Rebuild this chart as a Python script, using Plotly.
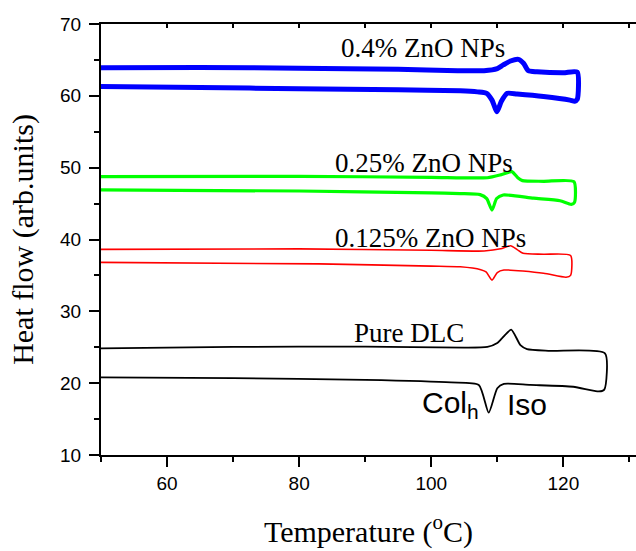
import plotly.graph_objects as go

# DSC thermograms: heating branch (upper) and cooling branch (lower) per sample
# Pure DLC
dlc_heat_T = [50, 70, 90, 105, 108.5, 110, 110.7, 112.1, 113.5, 114.5, 118, 126.3]
dlc_heat_H = [24.85, 25.05, 25.1, 24.95, 25.05, 25.6, 26.24, 27.45, 25.3, 24.75, 24.5, 24.16]
dlc_cool_T = [50, 70, 90, 103, 107.2, 108.7, 110, 111, 115, 121.5, 125.4, 126.2]
dlc_cool_H = [20.8, 20.7, 20.45, 20.1, 19.75, 15.9, 19.3, 19.9, 19.75, 19.5, 18.85, 19.1]

# 0.125% ZnO NPs
zn125_heat_T = [50, 80, 100, 108, 110.5, 112, 113, 113.9, 117, 121.1]
zn125_heat_H = [38.63, 38.7, 38.5, 38.4, 38.7, 39.14, 38.6, 38.08, 37.95, 37.78]
zn125_cool_T = [50, 83, 100, 104.4, 107.5, 108.3, 109.2, 110, 111, 117, 120.4, 121.1]
zn125_cool_H = [36.82, 36.6, 36.3, 36.2, 35.8, 35.5, 34.35, 35.4, 35.75, 35.3, 34.75, 35.0]

# 0.25% ZnO NPs
zn25_heat_T = [50, 80, 100, 108.5, 110.5, 112.2, 113.1, 113.8, 117, 121.6]
zn25_heat_H = [48.75, 48.8, 48.65, 48.6, 49.0, 49.45, 48.6, 48.2, 48.1, 48.05]
zn25_cool_T = [50, 80, 100, 104.4, 107.4, 108.4, 109.2, 109.9, 110.9, 115.5, 119.5, 121.2, 121.7]
zn25_cool_H = [46.9, 46.75, 46.5, 46.4, 46.25, 45.7, 44.1, 45.7, 46.2, 45.75, 45.4, 44.9, 45.2]

# 0.4% ZnO NPs
zn4_heat_T = [50, 65, 80, 95, 104, 108, 110, 110.9, 112, 113.2, 114, 114.7, 116, 120, 122.1]
zn4_heat_H = [63.9, 63.95, 63.85, 63.7, 63.5, 63.5, 63.8, 64.3, 64.85, 65.08, 64.5, 63.5, 63.35, 63.2, 63.3]
zn4_cool_T = [50, 65, 80, 95, 104.4, 107, 108.4, 109.2, 109.95, 110.6, 111.5, 113, 117, 121, 121.7, 122.1]
zn4_cool_H = [61.3, 61.15, 61.0, 60.85, 60.7, 60.55, 60.35, 59.4, 57.8, 59.2, 60.35, 60.25, 59.9, 59.4, 59.25, 59.5]

samples = [
    ("Pure DLC", dlc_heat_T, dlc_heat_H, dlc_cool_T, dlc_cool_H, "#000000", 1.8),
    ("0.125% ZnO NPs", zn125_heat_T, zn125_heat_H, zn125_cool_T, zn125_cool_H, "#FF0000", 1.6),
    ("0.25% ZnO NPs", zn25_heat_T, zn25_heat_H, zn25_cool_T, zn25_cool_H, "#00FF00", 3.2),
    ("0.4% ZnO NPs", zn4_heat_T, zn4_heat_H, zn4_cool_T, zn4_cool_H, "#0000FF", 5),
]

# Curve labels
label_text = ["0.4% ZnO NPs", "0.25% ZnO NPs", "0.125% ZnO NPs", "Pure DLC"]
label_T = [98.7, 98.9, 99.9, 96.6]
label_H = [66.6, 50.65, 40.2, 27.0]

fig = go.Figure()
for name, hT, hH, cT, cH, color, width in samples:
    # heating run left to right, then cooling run back right to left
    xs = list(hT) + list(reversed(cT))
    ys = list(hH) + list(reversed(cH))
    fig.add_trace(go.Scatter(
        x=xs, y=ys, mode="lines", name=name,
        line=dict(color=color, width=width, shape="spline", smoothing=0.6),
        showlegend=False, hoverinfo="skip",
    ))

# dummy trace to carry the top axis
fig.add_trace(go.Scatter(x=[50], y=[10], xaxis="x2", mode="markers",
                         marker=dict(opacity=0), showlegend=False, hoverinfo="skip"))

serif = "Liberation Serif"
sans = "Liberation Sans"

annotations = []
for t, xv, yv in zip(label_text, label_T, label_H):
    annotations.append(dict(x=xv, y=yv, text=t, showarrow=False,
                            font=dict(family=serif, size=27, color="black"),
                            xanchor="center", yanchor="middle"))
annotations.append(dict(x=107.6, y=17.1, text="Col<sub>h</sub>", showarrow=False,
                        font=dict(family=sans, size=30, color="black"),
                        xanchor="right", yanchor="middle"))
annotations.append(dict(x=111.1, y=17.1, text="Iso", showarrow=False,
                        font=dict(family=sans, size=30, color="black"),
                        xanchor="left", yanchor="middle"))

fig.update_layout(
    width=636, height=551,
    margin=dict(l=101, r=0, t=24, b=96),
    paper_bgcolor="white", plot_bgcolor="white",
    annotations=annotations,
    xaxis=dict(
        range=[50, 131], showgrid=False, zeroline=False,
        showline=True, linecolor="black", linewidth=2,
        ticks="outside", ticklen=10, tickwidth=2, tickcolor="black",
        tick0=0, dtick=20,
        minor=dict(ticks="outside", ticklen=5, tickwidth=2, tickcolor="black", dtick=10, tick0=0, showgrid=False),
        tickfont=dict(family=sans, size=19, color="black"),
        title=dict(text="Temperature (<sup>o</sup>C)", font=dict(family=serif, size=30, color="black"), standoff=28),
    ),
    xaxis2=dict(
        overlaying="x", side="top", matches="x", range=[50, 131],
        showgrid=False, zeroline=False, showline=True, linecolor="black", linewidth=2,
        ticks="inside", ticklen=4, tickwidth=2, tickcolor="black", tick0=0, dtick=10,
        showticklabels=False,
    ),
    yaxis=dict(
        range=[10, 70], showgrid=False, zeroline=False,
        showline=True, linecolor="black", linewidth=2,
        ticks="outside", ticklen=10, tickwidth=2, tickcolor="black",
        tick0=0, dtick=10,
        minor=dict(ticks="outside", ticklen=5, tickwidth=2, tickcolor="black", dtick=5, tick0=0, showgrid=False),
        tickfont=dict(family=sans, size=19, color="black"),
        ticklabelstandoff=4,
        title=dict(text="Heat flow (arb.units)", font=dict(family=serif, size=30, color="black"), standoff=18),
    ),
)

fig.write_html("out.html")
